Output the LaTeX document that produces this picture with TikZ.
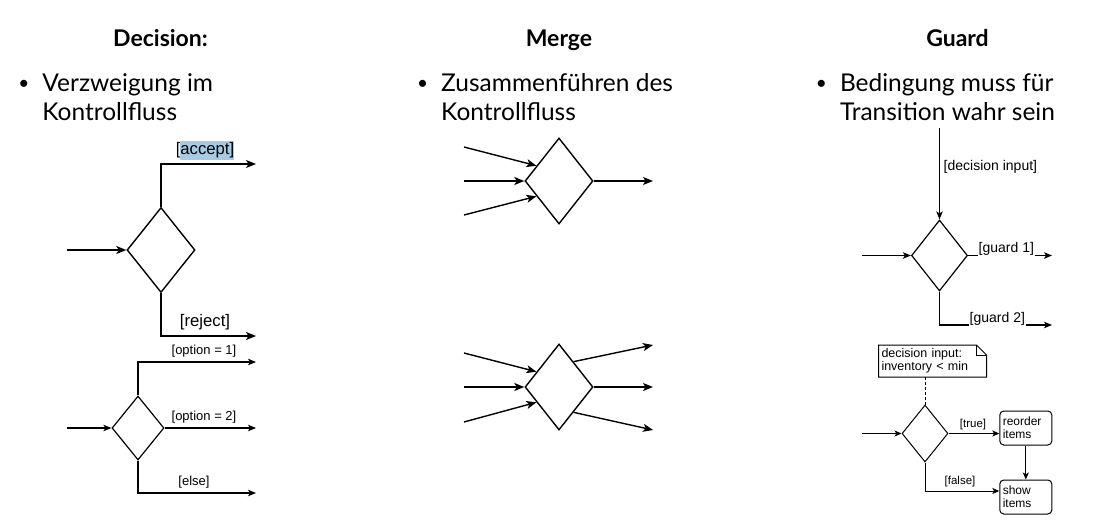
\documentclass[tikz,border=0pt]{standalone}
\usepackage{fontspec}
\setmainfont{Lato}
\newfontfamily\umlfont{Liberation Sans}
\usetikzlibrary{calc,arrows.meta,shapes.geometric}
\definecolor{markblue}{HTML}{A8CBE4}
\newcommand\marked[1]{{\setlength{\fboxsep}{0pt}\colorbox{markblue}{\strut#1}}}
\newcommand\itemdot{\llap{\raisebox{1.5pt}{\fontsize{19}{19}\selectfont\textbullet}\hspace{13pt}}}

\begin{document}
\begin{tikzpicture}[x=1pt,y=-1pt,line width=1.4pt,
    heading/.style={anchor=base,inner sep=0pt,font=\fontsize{23}{27}\selectfont\bfseries},
    point/.style={anchor=base west,align=left,inner sep=0pt,font=\fontsize{24.5}{29}\selectfont},
    decision/.style={draw,diamond,inner sep=0pt},
    cond/.style={anchor=base,inner sep=0pt,font=\umlfont\fontsize{13}{15}\selectfont},
    bigcond/.style={cond,font=\umlfont\fontsize{16.7}{19}\selectfont},
    guardcond/.style={cond,anchor=base west,font=\umlfont\fontsize{14}{16}\selectfont},
    smallcond/.style={cond,font=\umlfont\fontsize{11.5}{13}\selectfont},
    memobox/.style={inner sep=3pt,outer sep=0pt,text width=102pt,minimum height=32pt,align=left,font=\umlfont\fontsize{12.5}{13}\selectfont},
    action/.style={draw,line width=1pt,rounded corners=4pt,minimum width=52pt,minimum height=34pt,text width=46pt,inner xsep=3pt,align=left,font=\umlfont\fontsize{12}{13}\selectfont},
    link/.style={-{Stealth[length=10pt,width=8pt,inset=2.5pt]}},
    midlink/.style={line width=1.2pt,-{Stealth[length=8pt,width=6.5pt,inset=2pt]}},
    thinlink/.style={line width=1pt,-{Stealth[length=7pt,width=6pt,inset=1.8pt]}}]
  \useasboundingbox (0,0) rectangle (1095,522);

  \node[heading] (dec title) at (160.5,46.7) {Decision:};
  \node[heading] (mrg title) at (559,46.7) {Merge};
  \node[heading] (grd title) at (957.5,46.7) {Guard};
  \node[point] (dec text) at (41.7,120) {\itemdot Verzweigung im\\Kontrollfluss};
  \node[point] (mrg text) at (440.5,120) {\itemdot Zusammenführen des\\Kontrollfluss};
  \node[point] (grd text) at (839.3,120) {\itemdot Bedingung muss für\\Transition wahr sein};

  \node[decision,minimum width=68pt,minimum height=85pt] (dec) at (161,250) {};
  \coordinate (dec in) at (67,250);
  \coordinate (dec acc) at (256,164);
  \coordinate (dec rej) at (256,336);
  \draw[link] (dec in) -- (dec.west);
  \draw[link] (dec.north) |- (dec acc);
  \draw[link] (dec.south) |- (dec rej);
  \node[bigcond] (acc) at (205,154) {[\marked{accept]}};
  \node[bigcond] (rej) at (205,326.5) {[reject]};

  \node[decision,line width=1.2pt,minimum width=52pt,minimum height=64pt] (opt) at (138,428) {};
  \coordinate (opt in) at (67,428);
  \coordinate (opt one) at (256,362);
  \coordinate (opt two) at (256,428);
  \coordinate (opt else) at (256,493);
  \draw[midlink] (opt in) -- (opt.west);
  \draw[midlink] (opt.north) |- (opt one);
  \draw[midlink] (opt.east) -- (opt two);
  \draw[midlink] (opt.south) |- (opt else);
  \node[cond] (one) at (204,354.6) {[option = 1]};
  \node[cond] (two) at (204,420.6) {[option = 2]};
  \node[cond] (else) at (194,485.6) {[else]};

  \node[decision,minimum width=68pt,minimum height=86pt] (mrg) at (559,181) {};
  \coordinate (mrg a) at (464,147);
  \coordinate (mrg b) at (464,181);
  \coordinate (mrg c) at (464,215);
  \coordinate (mrg out) at (653,181);
  \draw[link] (mrg a) -- ($(mrg.west)!0.35!(mrg.north)$);
  \draw[link] (mrg b) -- (mrg.west);
  \draw[link] (mrg c) -- ($(mrg.west)!0.35!(mrg.south)$);
  \draw[link] (mrg.east) -- (mrg out);

  \node[decision,minimum width=68pt,minimum height=86pt] (fork) at (559,387) {};
  \coordinate (fork a) at (464,353);
  \coordinate (fork b) at (464,387);
  \coordinate (fork c) at (464,422);
  \coordinate (fork x) at (653,345);
  \coordinate (fork y) at (653,387);
  \coordinate (fork z) at (653,430);
  \draw[link] (fork a) -- ($(fork.west)!0.35!(fork.north)$);
  \draw[link] (fork b) -- (fork.west);
  \draw[link] (fork c) -- ($(fork.west)!0.35!(fork.south)$);
  \draw[link] ($(fork.north)!0.42!(fork.east)$) -- (fork x);
  \draw[link] (fork.east) -- (fork y);
  \draw[link] ($(fork.south)!0.42!(fork.east)$) -- (fork z);

  \node[decision,line width=1.2pt,minimum width=56pt,minimum height=71pt] (grd) at (939.5,255.5) {};
  \coordinate (grd top) at (939.5,128);
  \coordinate (grd in) at (862,255.5);
  \coordinate (grd one) at (1052,255.5);
  \coordinate (grd two) at (1052,325);
  \draw[midlink] (grd top) -- (grd.north);
  \draw[midlink] (grd in) -- (grd.west);
  \node[guardcond] (input) at (943,170.5) {[decision input]};
  \node[guardcond] (g1) at (978,252.5) {[guard 1]};
  \node[guardcond] (g2) at (969,322.5) {[guard 2]};
  \draw[line width=1.2pt] (grd.east) -- (grd.east -| g1.west);
  \draw[midlink] (grd.east -| g1.east) -- (grd one);
  \draw[line width=1.2pt] (grd.south) |- (grd two -| g2.west);
  \draw[midlink] (grd two -| g2.east) -- (grd two);

  \node[decision,line width=1pt,minimum width=46pt,minimum height=57pt] (stock) at (925,433.5) {};
  \node[memobox] (memo) at (932.5,361) {decision input:\\inventory < min};
  \draw[line width=1pt] (memo.south west) -- (memo.north west) -- ($(memo.north east)+(-10,0)$) -- ($(memo.north east)+(0,10)$) -- (memo.south east) -- cycle;
  \draw[line width=1pt] ($(memo.north east)+(-10,0)$) |- ($(memo.north east)+(0,10)$);
  \draw[line width=1pt,dash pattern=on 3pt off 2pt] (stock.north) -- (stock.north |- memo.south);
  \coordinate (stock in) at (862,433.5);
  \node[action] (reorder) at (1025.8,428) {reorder\\items};
  \node[action] (show) at (1025.8,497) {show\\items};
  \draw[thinlink] (stock in) -- (stock.west);
  \draw[thinlink] (stock.east) -- (stock.east -| reorder.west);
  \draw[thinlink] (stock.south) |- ([yshift=6pt]show.west);
  \draw[thinlink] (reorder) -- (show);
  \node[smallcond] (true) at (973,427) {[true]};
  \node[smallcond] (false) at (960,484.5) {[false]};
\end{tikzpicture}
\end{document}
